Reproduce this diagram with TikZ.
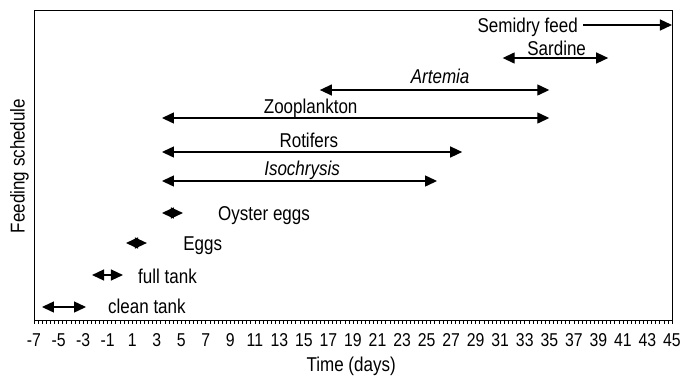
\documentclass[tikz,border=0pt]{standalone}
\usepackage{fontspec}
\setmainfont{Liberation Sans}[FakeStretch=0.85]
\usetikzlibrary{arrows.meta}

\tikzset{
  lbl/.style={font=\fontsize{20}{20}\selectfont, inner sep=0pt},
  ticklbl/.style={font=\fontsize{18.6}{18.6}\selectfont, inner sep=0pt},
  span/.style={line width=1.3pt, {Triangle[length=12pt,width=11pt]}-{Triangle[length=12pt,width=11pt]}},
  onward/.style={line width=1.3pt, -{Triangle[length=12pt,width=11pt]}}
}

\begin{document}
\begin{tikzpicture}[x=1pt, y=-1pt]
  \useasboundingbox (0,0) rectangle (682,381);

  % Axis title on the left
  \node[lbl, rotate=90, anchor=base] (ylab) at (24.5,166) {Feeding schedule};

  % Time axis in days: day d sits at 119.88 + 12.269 d
  \begin{scope}[xshift=119.88pt, x=12.269pt]
    % Frame of the plot
    \draw[line width=0.9pt] (-7,10) rectangle (45,320);

    % Ticks, three per day
    \foreach \t in {0,...,156}
      \draw[line width=0.6pt] ({-7+\t/3},320) -- ++(0,4);

    % Tick labels
    \foreach \d in {-7,-5,...,45}
      \node[ticklbl, anchor=base] (tick\d) at (\d,346.5) {\d};

    \node[lbl, anchor=base] (xlab) at (18.85,371) {Time (days)};

    % Feeding periods, top to bottom
    \coordinate (semi-a) at (37.75,25);
    \coordinate (semi-b) at (45,25);
    \node[lbl, anchor=base east] (semi) at (37.34,32.5) {Semidry feed};
    \draw[onward] (semi-a) -- (semi-b);

    \coordinate (sard-a) at (31.2,58);
    \coordinate (sard-b) at (39.8,58);
    \node[lbl, anchor=base] (sard) at (35.6,55) {Sardine};
    \draw[span] (sard-a) -- (sard-b);

    \coordinate (art-a) at (16.3,90);
    \coordinate (art-b) at (35,90);
    \node[lbl, anchor=base] (art) at (26.1,83.5) {\itshape Artemia};
    \draw[span] (art-a) -- (art-b);

    \coordinate (zoo-a) at (3.43,118);
    \coordinate (zoo-b) at (35,118);
    \node[lbl, anchor=base] (zoo) at (15.55,113.5) {Zooplankton};
    \draw[span] (zoo-a) -- (zoo-b);

    \coordinate (rot-a) at (3.43,152);
    \coordinate (rot-b) at (27.9,152);
    \node[lbl, anchor=base] (rot) at (15.4,147.5) {Rotifers};
    \draw[span] (rot-a) -- (rot-b);

    \coordinate (iso-a) at (3.43,181);
    \coordinate (iso-b) at (25.85,181);
    \node[lbl, anchor=base] (iso) at (14.85,175.5) {\itshape Isochrysis};
    \draw[span] (iso-a) -- (iso-b);

    % Short events
    \coordinate (oys-a) at (3.43,213);
    \coordinate (oys-b) at (5.14,213);
    \node[lbl, anchor=base west] (oys) at (8.0,220.5) {Oyster eggs};
    \draw[span] (oys-a) -- (oys-b);

    \coordinate (egg-a) at (0.5,243);
    \coordinate (egg-b) at (2.2,243);
    \node[lbl, anchor=base west] (egg) at (5.15,250.5) {Eggs};
    \draw[span] (egg-a) -- (egg-b);

    \coordinate (full-a) at (-2.27,275);
    \coordinate (full-b) at (0.25,275);
    \node[lbl, anchor=base west] (full) at (1.48,283) {full tank};
    \draw[span] (full-a) -- (full-b);

    \coordinate (clean-a) at (-6.35,307);
    \coordinate (clean-b) at (-2.76,307);
    \node[lbl, anchor=base west] (clean) at (-0.97,313.5) {clean tank};
    \draw[span] (clean-a) -- (clean-b);
  \end{scope}
\end{tikzpicture}
\end{document}
